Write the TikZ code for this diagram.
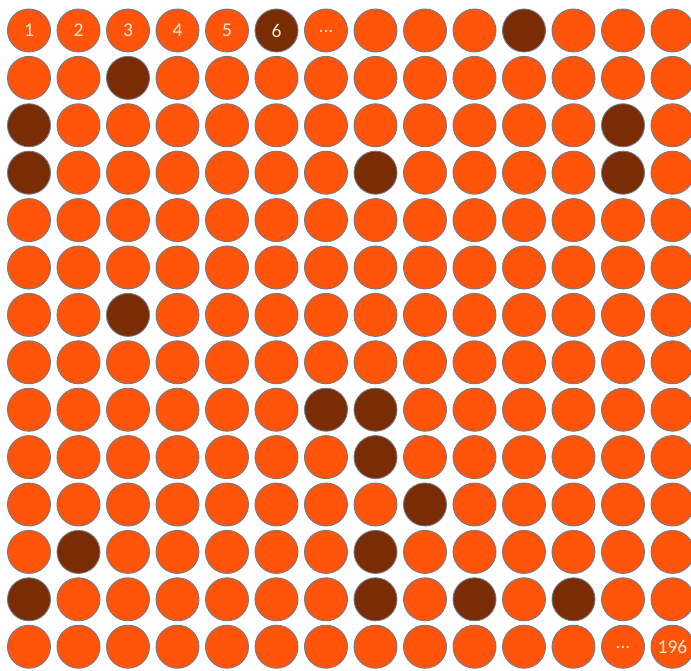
\documentclass[tikz,border=0pt]{standalone}
\usepackage{fontspec}
\setmainfont{Carlito}
\definecolor{lite}{HTML}{FF540A}
\definecolor{dark}{HTML}{7A2C04}
\definecolor{rim}{HTML}{6D7B8A}
\definecolor{txt}{HTML}{FFE8D4}
\tikzset{
  ball/.style={circle, draw=rim, line width=0.9pt, minimum size=43pt, inner sep=0pt,
    text=txt, font=\fontsize{19.5}{19.5}\selectfont},
  litebox/.style={ball, fill=lite},
  darkbox/.style={ball, fill=dark},
}
\begin{document}
\begin{tikzpicture}[x=1pt,y=-1pt]
\useasboundingbox (0,0) rectangle (691,671);
\clip (0,0) rectangle (691,671);
\fill[white] (0,0) rectangle (691,671);
\foreach \p in {1/6,1/11,2/3,3/1,3/13,4/1,4/8,4/13,7/3,9/7,9/8,10/8,11/9,12/2,12/8,13/1,13/8,13/10,13/12}
  {\expandafter\gdef\csname dk\p\endcsname{}}
\expandafter\gdef\csname lb1/1\endcsname{1}
\expandafter\gdef\csname lb1/2\endcsname{2}
\expandafter\gdef\csname lb1/3\endcsname{3}
\expandafter\gdef\csname lb1/4\endcsname{4}
\expandafter\gdef\csname lb1/5\endcsname{5}
\expandafter\gdef\csname lb1/6\endcsname{6}
\expandafter\gdef\csname lb1/7\endcsname{\raisebox{-4pt}{...}}
\expandafter\gdef\csname lb14/13\endcsname{\raisebox{-4pt}{...}}
\expandafter\gdef\csname lb14/14\endcsname{196}
\foreach \r in {1,...,14}{
  \foreach \c in {1,...,14}{
    \ifcsname dk\r/\c\endcsname \def\st{darkbox}\else\def\st{litebox}\fi
    \ifcsname lb\r/\c\endcsname \edef\lbname{lb\r/\c}\else\def\lbname{relax}\fi
    \node[\st] (n-\r-\c) at ({29+(\c-1)*49.5},{30.5+(\r-1)*47.4}) {\csname\lbname\endcsname};
  }
}
\end{tikzpicture}
\end{document}
